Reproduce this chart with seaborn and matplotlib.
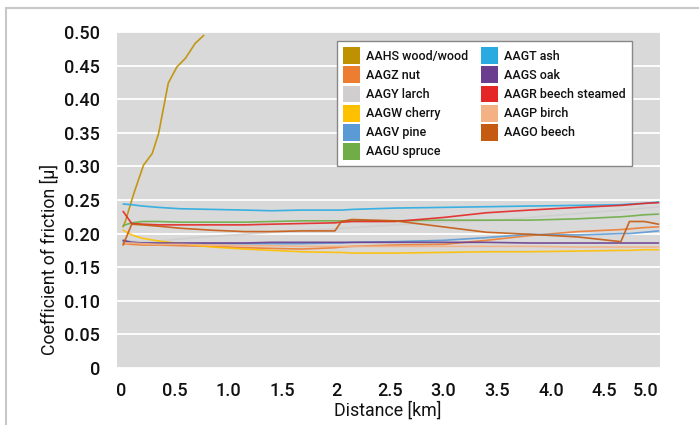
import numpy as np
import pandas as pd
import matplotlib
matplotlib.use('Agg')
import matplotlib.pyplot as plt
import seaborn as sns
from matplotlib.patches import Patch
from matplotlib.lines import Line2D

# --- Data ---
SERIES = [
    "AAHS wood/wood", "AAGZ nut", "AAGY larch", "AAGW cherry", "AAGV pine",
    "AAGU spruce", "AAGT ash", "AAGS oak", "AAGR beech steamed", "AAGP birch",
    "AAGO beech",
]
COLORS = [
    "#BF9000", "#ED7D31", "#D0CECE", "#FFC000", "#5B9BD5",
    "#70AD47", "#29ABE2", "#6A3D8F", "#E42726", "#F4B183",
    "#C55A11",
]

WOOD_KM = [0.02, 0.04, 0.12, 0.21, 0.29, 0.35, 0.44, 0.52, 0.60, 0.69, 0.77]
WOOD_MU = [0.210, 0.218, 0.260, 0.302, 0.319, 0.349, 0.424, 0.448, 0.461, 0.483, 0.495]

KM = [0.02, 0.1, 0.2, 0.35, 0.55, 0.85, 1.15, 1.4, 1.68, 1.99, 2.05,
      2.15, 2.55, 3.0, 3.4, 3.8, 4.25, 4.65, 4.73, 4.87, 5.0]

NUT = [0.185, 0.184, 0.183, 0.183, 0.182, 0.181, 0.179, 0.178, 0.177, 0.179, 0.180,
       0.181, 0.183, 0.184, 0.190, 0.197, 0.203, 0.206, 0.207, 0.209, 0.210]
LARCH = [0.190, 0.189, 0.188, 0.189, 0.192, 0.196, 0.199, 0.202, 0.205, 0.207, 0.208,
         0.209, 0.213, 0.217, 0.219, 0.224, 0.230, 0.235, 0.236, 0.238, 0.240]
CHERRY = [0.205, 0.198, 0.193, 0.189, 0.185, 0.180, 0.177, 0.175, 0.173, 0.172, 0.172,
          0.171, 0.171, 0.172, 0.173, 0.173, 0.174, 0.175, 0.175, 0.176, 0.176]
PINE = [0.188, 0.187, 0.186, 0.185, 0.185, 0.185, 0.185, 0.185, 0.185, 0.186, 0.186,
        0.187, 0.188, 0.190, 0.194, 0.199, 0.198, 0.200, 0.200, 0.202, 0.204]
SPRUCE = [0.212, 0.216, 0.218, 0.218, 0.217, 0.217, 0.217, 0.218, 0.219, 0.219, 0.219,
          0.219, 0.219, 0.220, 0.220, 0.220, 0.222, 0.225, 0.226, 0.228, 0.229]
ASH = [0.244, 0.243, 0.241, 0.239, 0.237, 0.236, 0.235, 0.234, 0.235, 0.235, 0.235,
       0.236, 0.238, 0.239, 0.240, 0.241, 0.242, 0.243, 0.244, 0.245, 0.247]
OAK = [0.190, 0.187, 0.186, 0.186, 0.186, 0.186, 0.186, 0.187, 0.187, 0.187, 0.187,
       0.187, 0.187, 0.187, 0.187, 0.186, 0.186, 0.186, 0.186, 0.186, 0.186]
BEECH_STEAMED = [0.233, 0.215, 0.214, 0.213, 0.213, 0.213, 0.213, 0.214, 0.215, 0.216, 0.217,
                 0.218, 0.218, 0.224, 0.231, 0.235, 0.239, 0.242, 0.243, 0.245, 0.246]
BIRCH = [0.186, 0.186, 0.185, 0.184, 0.184, 0.183, 0.182, 0.182, 0.181, 0.181, 0.181,
         0.181, 0.181, 0.181, 0.181, 0.181, 0.180, 0.180, 0.180, 0.180, 0.180]
BEECH = [0.183, 0.214, 0.213, 0.211, 0.208, 0.205, 0.203, 0.203, 0.204, 0.204, 0.218,
         0.221, 0.219, 0.210, 0.202, 0.199, 0.195, 0.188, 0.218, 0.218, 0.214]

X_TICKS = [0, 0.5, 1.0, 1.5, 2.0, 2.5, 3.0, 3.5, 4.0, 4.5, 5.0]
X_LABELS = ["0", "0.5", "1.0", "1.5", "2", "2.5", "3.0", "3.5", "4.0", "4.5", "5.0"]
Y_TICKS = [0, 0.05, 0.10, 0.15, 0.20, 0.25, 0.30, 0.35, 0.40, 0.45, 0.50]
Y_LABELS = ["0", "0.05", "0.10", "0.15", "0.20", "0.25", "0.30", "0.35", "0.40", "0.45", "0.50"]

# --- Long-form table ---
rows = [pd.DataFrame({"km": WOOD_KM, "mu": WOOD_MU, "series": SERIES[0]})]
for name, vals in zip(SERIES[1:], [NUT, LARCH, CHERRY, PINE, SPRUCE, ASH, OAK,
                                    BEECH_STEAMED, BIRCH, BEECH]):
    rows.append(pd.DataFrame({"km": KM, "mu": vals, "series": name}))
df = pd.concat(rows, ignore_index=True)

# --- Style ---
sns.set_theme(style="white")
plt.rcParams['font.family'] = ['Roboto', 'Liberation Sans', 'DejaVu Sans']
plt.rcParams['font.weight'] = 'medium'

fig = plt.figure(figsize=(6.99, 4.25), dpi=100)
fig.patch.set_facecolor("white")
ax = fig.add_axes([117 / 699, 1 - 368 / 425, (660 - 117) / 699, (368 - 32) / 425])
ax.set_facecolor("#D9D9D9")

sns.lineplot(data=df, x="km", y="mu", hue="series", hue_order=SERIES,
             palette=COLORS, estimator=None, sort=False, linewidth=1.2,
             alpha=0.9, legend=False, ax=ax)

ax.set_xlim(-0.037, 5.014)
ax.set_ylim(0, 0.5)
ax.set_xticks(X_TICKS)
ax.set_xticklabels(X_LABELS)
ax.set_yticks(Y_TICKS)
ax.set_yticklabels(Y_LABELS)
ax.get_xticklabels()[-1].set_ha('right')
ax.tick_params(axis='both', length=0, labelsize=13, colors="#111111")
ax.tick_params(axis='x', pad=10)
ax.tick_params(axis='y', pad=12)
ax.yaxis.grid(True, color="white", linewidth=1.3)
ax.xaxis.grid(False)
for s in ax.spines.values():
    s.set_visible(False)

ax.set_xlabel("Distance [km]", fontsize=12.8, color="#111111")
ax.set_ylabel("Coefficient of friction [µ]", fontsize=12.8, color="#111111")
ax.xaxis.set_label_coords(0.499, -0.098)
ax.yaxis.set_label_coords(-0.106, 0.323)

# --- Legend ---
handles = [Patch(facecolor=c, edgecolor='none') for c in COLORS]
leg = fig.legend(handles, SERIES, loc='upper left',
                 bbox_to_anchor=(337 / 699, 1 - 41 / 425), ncol=2,
                 fontsize=9, frameon=True, fancybox=False, framealpha=1,
                 edgecolor="#888888", handlelength=1.36, handleheight=1.7,
                 handletextpad=0.5, labelspacing=0.18, columnspacing=1.0,
                 borderpad=0.5, borderaxespad=0)
leg.get_frame().set_linewidth(1.0)
for t in leg.get_texts():
    t.set_color("#111111")

# --- Outer frame (top and left only) ---
fig.add_artist(Line2D([6 / 699, 1], [1 - 8 / 425, 1 - 8 / 425], color="#C8C8C8", linewidth=1.5))
fig.add_artist(Line2D([6 / 699, 6 / 699], [0, 1 - 8 / 425], color="#C8C8C8", linewidth=1.5))

plt.savefig("out.png", dpi=100)
plt.close()
